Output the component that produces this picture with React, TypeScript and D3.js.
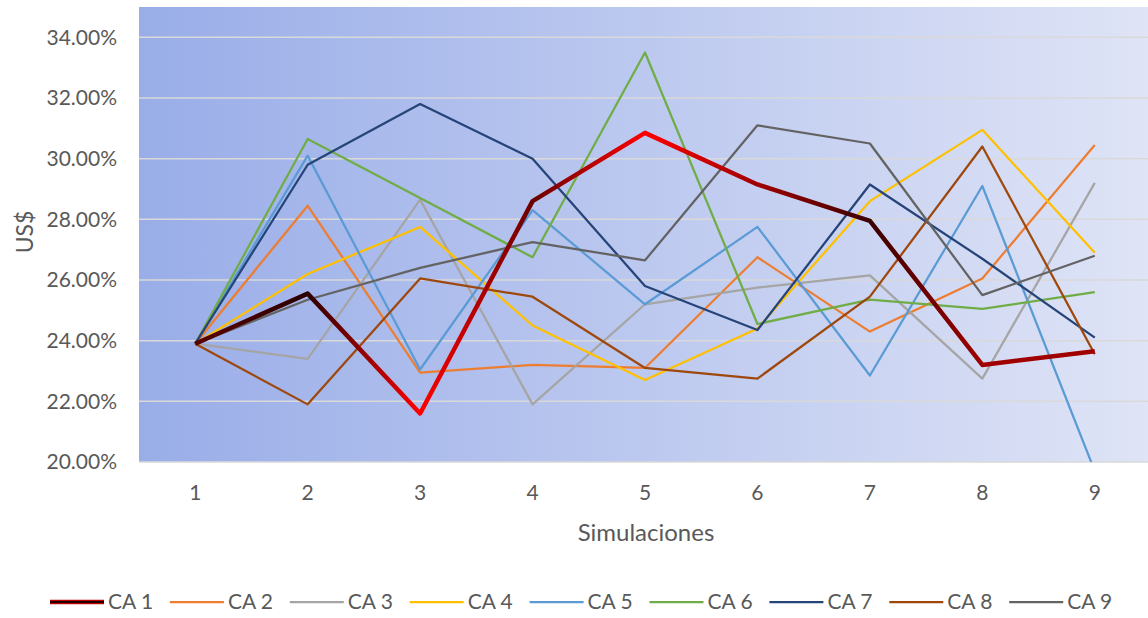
import React, { useEffect, useRef } from "react";
import * as d3 from "d3";

// simulaciones (eje x)
const simulaciones = ["1", "2", "3", "4", "5", "6", "7", "8", "9"];
const yTicks = [0.2, 0.22, 0.24, 0.26, 0.28, 0.3, 0.32, 0.34];

const ca1 = [23.9, 25.55, 21.6, 28.6, 30.85, 29.15, 27.95, 23.2, 23.65];
const ca2 = [23.9, 28.45, 22.95, 23.2, 23.1, 26.75, 24.3, 26.05, 30.45];
const ca3 = [23.9, 23.4, 28.65, 21.9, 25.2, 25.75, 26.15, 22.75, 29.2];
const ca4 = [23.9, 26.2, 27.75, 24.5, 22.7, 24.4, 28.6, 30.95, 26.9];
const ca5 = [23.9, 30.1, 23.05, 28.3, 25.2, 27.75, 22.85, 29.1, 19.7];
const ca6 = [23.9, 30.65, 28.7, 26.75, 33.5, 24.55, 25.35, 25.05, 25.6];
const ca7 = [23.9, 29.8, 31.8, 30.0, 25.8, 24.35, 29.15, 26.7, 24.1];
const ca8 = [23.9, 21.9, 26.05, 25.45, 23.1, 22.75, 25.45, 30.4, 23.55];
const ca9 = [23.9, 25.35, 26.4, 27.25, 26.65, 31.1, 30.5, 25.5, 26.8];

const seriesNames = ["CA 1", "CA 2", "CA 3", "CA 4", "CA 5", "CA 6", "CA 7", "CA 8", "CA 9"];
const seriesData = [ca1, ca2, ca3, ca4, ca5, ca6, ca7, ca8, ca9];
const colors = ["url(#ca1grad)", "#ED7D31", "#A5A5A5", "#FFC000", "#5B9BD5", "#70AD47", "#264478", "#9E480E", "#636363"];
// colores del degradado de CA 1 en cada simulacion
const ca1Stops = ["#5a0000", "#2a0000", "#ff0000", "#6a0000", "#ff0000", "#a00000", "#3a0000", "#a00000", "#a00000"];

const App = () => {
  const ref = useRef<SVGSVGElement>(null);

  useEffect(() => {
    const width = 1148;
    const height = 618;
    const left = 139;
    const right = 1151;
    const top = 7;
    const bottom = 462;
    const font = "Lato, 'Open Sans', sans-serif";
    const textColor = "#595959";

    const svg = d3.select(ref.current);
    svg.selectAll("*").remove();

    const x = d3.scaleBand().domain(simulaciones).range([left, right]);
    const y = d3.scaleLinear().domain([0.2, 0.35]).range([bottom, top]);
    const cx = (i: number) => (x(simulaciones[i]) as number) + x.bandwidth() / 2;

    const defs = svg.append("defs");
    const bg = defs.append("linearGradient").attr("id", "bggrad").attr("x1", 0).attr("x2", 1).attr("y1", 0).attr("y2", 0);
    bg.append("stop").attr("offset", "0%").attr("stop-color", "#99ade8");
    bg.append("stop").attr("offset", "100%").attr("stop-color", "#dfe4f6");

    const g1 = defs
      .append("linearGradient")
      .attr("id", "ca1grad")
      .attr("gradientUnits", "userSpaceOnUse")
      .attr("x1", cx(0))
      .attr("x2", cx(8))
      .attr("y1", 0)
      .attr("y2", 0);
    ca1Stops.forEach((c, i) => {
      g1.append("stop").attr("offset", i / 8).attr("stop-color", c);
    });

    defs
      .append("clipPath")
      .attr("id", "plotclip")
      .append("rect")
      .attr("x", left)
      .attr("y", top)
      .attr("width", right - left)
      .attr("height", bottom - top);

    svg
      .append("rect")
      .attr("x", left)
      .attr("y", top)
      .attr("width", right - left)
      .attr("height", bottom - top)
      .attr("fill", "url(#bggrad)");

    // grid
    svg
      .append("g")
      .selectAll("line")
      .data(yTicks)
      .join("line")
      .attr("x1", left)
      .attr("x2", right)
      .attr("y1", (d) => y(d))
      .attr("y2", (d) => y(d))
      .attr("stroke", "#d9d9d9")
      .attr("stroke-width", 1.5);

    // y labels
    svg
      .append("g")
      .selectAll("text")
      .data(yTicks)
      .join("text")
      .attr("x", 117)
      .attr("y", (d) => y(d))
      .attr("dy", "0.35em")
      .attr("text-anchor", "end")
      .attr("font-family", font)
      .attr("font-size", 21)
      .attr("fill", textColor)
      .text((d) => d3.format(".2%")(d));

    // x labels
    svg
      .append("g")
      .selectAll("text")
      .data(simulaciones)
      .join("text")
      .attr("x", (d, i) => cx(i))
      .attr("y", 500)
      .attr("text-anchor", "middle")
      .attr("font-family", font)
      .attr("font-size", 21)
      .attr("fill", textColor)
      .text((d) => d);

    svg
      .append("text")
      .attr("x", 646)
      .attr("y", 541)
      .attr("text-anchor", "middle")
      .attr("font-family", font)
      .attr("font-size", 24)
      .attr("fill", textColor)
      .text("Simulaciones");

    svg
      .append("text")
      .attr("transform", "translate(33,232) rotate(-90)")
      .attr("text-anchor", "middle")
      .attr("font-family", font)
      .attr("font-size", 23)
      .attr("fill", textColor)
      .text("US$");

    const line = d3
      .line<number>()
      .x((d, i) => cx(i))
      .y((d) => y(d / 100));

    const lines = svg.append("g").attr("clip-path", "url(#plotclip)");
    // CA 1 drawn last so it sits on top
    const order = [1, 2, 3, 4, 5, 6, 7, 8, 0];
    order.forEach((k) => {
      lines
        .append("path")
        .datum(seriesData[k])
        .attr("d", line)
        .attr("fill", "none")
        .attr("stroke", colors[k])
        .attr("stroke-width", k === 0 ? 4.5 : 2.25)
        .attr("stroke-linejoin", "round");
    });

    // legend
    const legend = svg.append("g");
    seriesNames.forEach((name, i) => {
      const lx = 50 + i * 119.9;
      const ly = 602;
      if (i === 0) {
        legend.append("line").attr("x1", lx).attr("x2", lx + 54).attr("y1", ly).attr("y2", ly)
          .attr("stroke", "#c00000").attr("stroke-width", 4.5);
        legend.append("line").attr("x1", lx).attr("x2", lx + 54).attr("y1", ly).attr("y2", ly)
          .attr("stroke", "#200000").attr("stroke-width", 2);
      } else {
        legend.append("line").attr("x1", lx).attr("x2", lx + 54).attr("y1", ly).attr("y2", ly)
          .attr("stroke", colors[i]).attr("stroke-width", 2.25);
      }
      legend
        .append("text")
        .attr("x", lx + 58)
        .attr("y", ly)
        .attr("dy", "0.35em")
        .attr("font-family", font)
        .attr("font-size", 21)
        .attr("fill", textColor)
        .text(name);
    });

    svg.attr("width", width).attr("height", height);
  }, []);

  return (
    <svg
      ref={ref}
      width={1148}
      height={618}
      style={{ position: "absolute", left: 0, top: 0, background: "#fff" }}
    />
  );
};

export default App;
